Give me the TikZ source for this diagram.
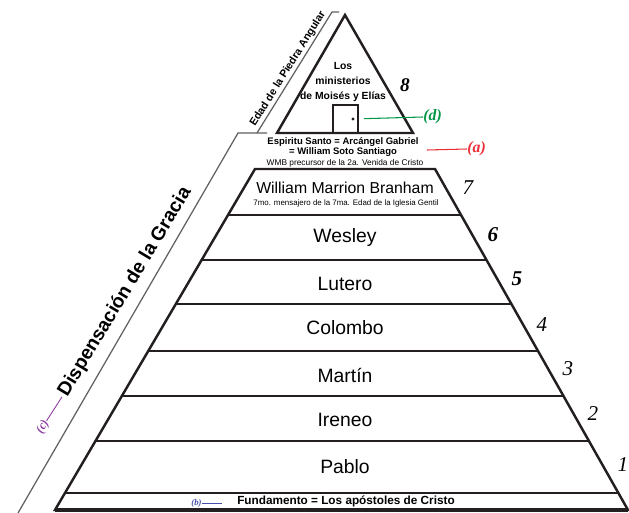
\documentclass[tikz,border=0pt]{standalone}
\usepackage{fontspec}
\setmainfont{Liberation Sans}
\newfontfamily\numfont{Liberation Serif}
\usetikzlibrary{calc,positioning}

\definecolor{tinta}{RGB}{35,31,32}
\definecolor{gris}{RGB}{95,95,95}
\definecolor{verdeD}{RGB}{0,150,70}
\definecolor{rojoA}{RGB}{235,45,55}
\definecolor{azulB}{RGB}{70,80,170}
\definecolor{moradoC}{RGB}{140,60,160}

\begin{document}
\begin{tikzpicture}[x=0.02cm,y=-0.02cm,
  nivel/.style={line width=1.4pt,draw=tinta},
  nombre/.style={font=\fontsize{11}{13}\selectfont},
  numero/.style={font=\numfont\itshape\fontsize{12}{14}\selectfont},
  etiqueta/.style={font=\numfont\bfseries\itshape\fontsize{9}{10}\selectfont,inner sep=0pt}]
  \useasboundingbox (0,0) rectangle (629,513);

  % Líneas grises de las dispensaciones
  \draw[gris,line width=0.7pt] (18,513) -- (238,133) -- (267,133);
  \draw[gris,line width=0.7pt] (257,133) -- (332,12) -- (339,12);
  \node[rotate=59,font=\bfseries\fontsize{11}{13}\selectfont,inner sep=1pt] (gracia) at (125,292) {Dispensación de la Gracia};
  \node[rotate=58,font=\bfseries\fontsize{6.1}{7}\selectfont,inner sep=1pt] (piedra) at (288,69) {Edad de la Piedra Angular};

  % Triángulo superior con la puerta
  \draw[line width=1.4pt,tinta,line join=miter] (277,133) -- (345,15) -- (413,133) -- cycle;
  \draw[line width=0.8pt,tinta] (333,133) rectangle (358,105);
  \node[circle,fill=tinta,inner sep=0.7pt] (pomo) at (353,119) {};
  \node[align=center,font=\bfseries\fontsize{5.9}{8.8}\selectfont] (ministerios) at (343,82) {Los\\ministerios\\de Moisés y Elías};
  \node[numero,font=\numfont\bfseries\itshape\fontsize{11}{13}\selectfont] (n8) at (405,85) {8};

  % Textos entre los dos triángulos
  \node[font=\bfseries\fontsize{5.4}{6}\selectfont,inner sep=0pt] (espiritu) at (343,142) {Espiritu Santo = Arcángel Gabriel};
  \node[font=\bfseries\fontsize{5.4}{6}\selectfont,inner sep=0pt] (soto) at (343,152) {= William Soto Santiago};
  \node[font=\fontsize{4.75}{5.5}\selectfont,inner sep=0pt] (precursor) at (345,163) {WMB precursor de la 2a. Venida de Cristo};

  % Pirámide principal
  \coordinate (bi) at (55,510);
  \coordinate (bd) at (628,510);
  \coordinate (si) at (255,169);
  \coordinate (sd) at (435,169);
  \draw[nivel,line join=miter] (bi) -- (si) -- (sd) -- (bd) -- cycle;
  \draw[line width=1.8pt,tinta] (bi) -- (bd);
  \foreach \y in {215,260,304,351,396,441,493}
    \draw[nivel] ($(bi)!{(510-\y)/341}!(si)$) -- ($(bd)!{(510-\y)/341}!(sd)$);

  % Nombres de cada nivel
  \node[font=\fontsize{9}{10}\selectfont] (branham) at (345,188) {William Marrion Branham};
  \node[font=\fontsize{4.5}{5}\selectfont,inner sep=0pt] (mensajero) at (346,203) {7mo. mensajero de la 7ma. Edad de la Iglesia Gentil};
  \node[nombre] (wesley) at (345,238) {Wesley};
  \node[nombre] (lutero) at (345,284) {Lutero};
  \node[nombre] (colombo) at (345,328) {Colombo};
  \node[nombre] (martin) at (345,375) {Martín};
  \node[nombre] (ireneo) at (345,420) {Ireneo};
  \node[nombre] (pablo) at (345,467) {Pablo};
  \node[font=\bfseries\fontsize{6.7}{8}\selectfont,inner sep=0pt] (fundamento) at (346,501) {Fundamento = Los apóstoles de Cristo};

  % Números de las edades
  \node[numero] (n7) at (468,188) {7};
  \node[numero,font=\numfont\bfseries\itshape\fontsize{12}{14}\selectfont] (n6) at (493,235) {6};
  \node[numero,font=\numfont\bfseries\itshape\fontsize{12}{14}\selectfont] (n5) at (517,279) {5};
  \node[numero] (n4) at (542,325) {4};
  \node[numero] (n3) at (568,369) {3};
  \node[numero] (n2) at (593,414) {2};
  \node[numero] (n1) at (623,465) {1};

  % Etiquetas (a) a (d)
  \node[etiqueta,verdeD,anchor=west] (etiqD) at (423,117) {(d)};
  \draw[verdeD,line width=0.6pt,shorten <=5pt] (pomo) -- (etiqD.west);
  \coordinate (iniA) at (427,150);
  \node[etiqueta,rojoA,anchor=west] (etiqA) at (467,149) {(a)};
  \draw[rojoA,line width=0.6pt] (iniA) -- (etiqA.west);
  \node[etiqueta,azulB,font=\numfont\bfseries\itshape\fontsize{5}{6}\selectfont,anchor=east] (etiqB) at (202,503) {(b)};
  \coordinate (finB) at (222,503);
  \draw[azulB,line width=0.5pt] (etiqB.east) -- (finB);
  \node[etiqueta,moradoC,rotate=60,font=\numfont\bfseries\itshape\fontsize{7}{8}\selectfont] (etiqC) at (43,427) {(c)};
  \draw[moradoC,line width=0.5pt] (etiqC.east) -- (gracia.west);
\end{tikzpicture}
\end{document}
